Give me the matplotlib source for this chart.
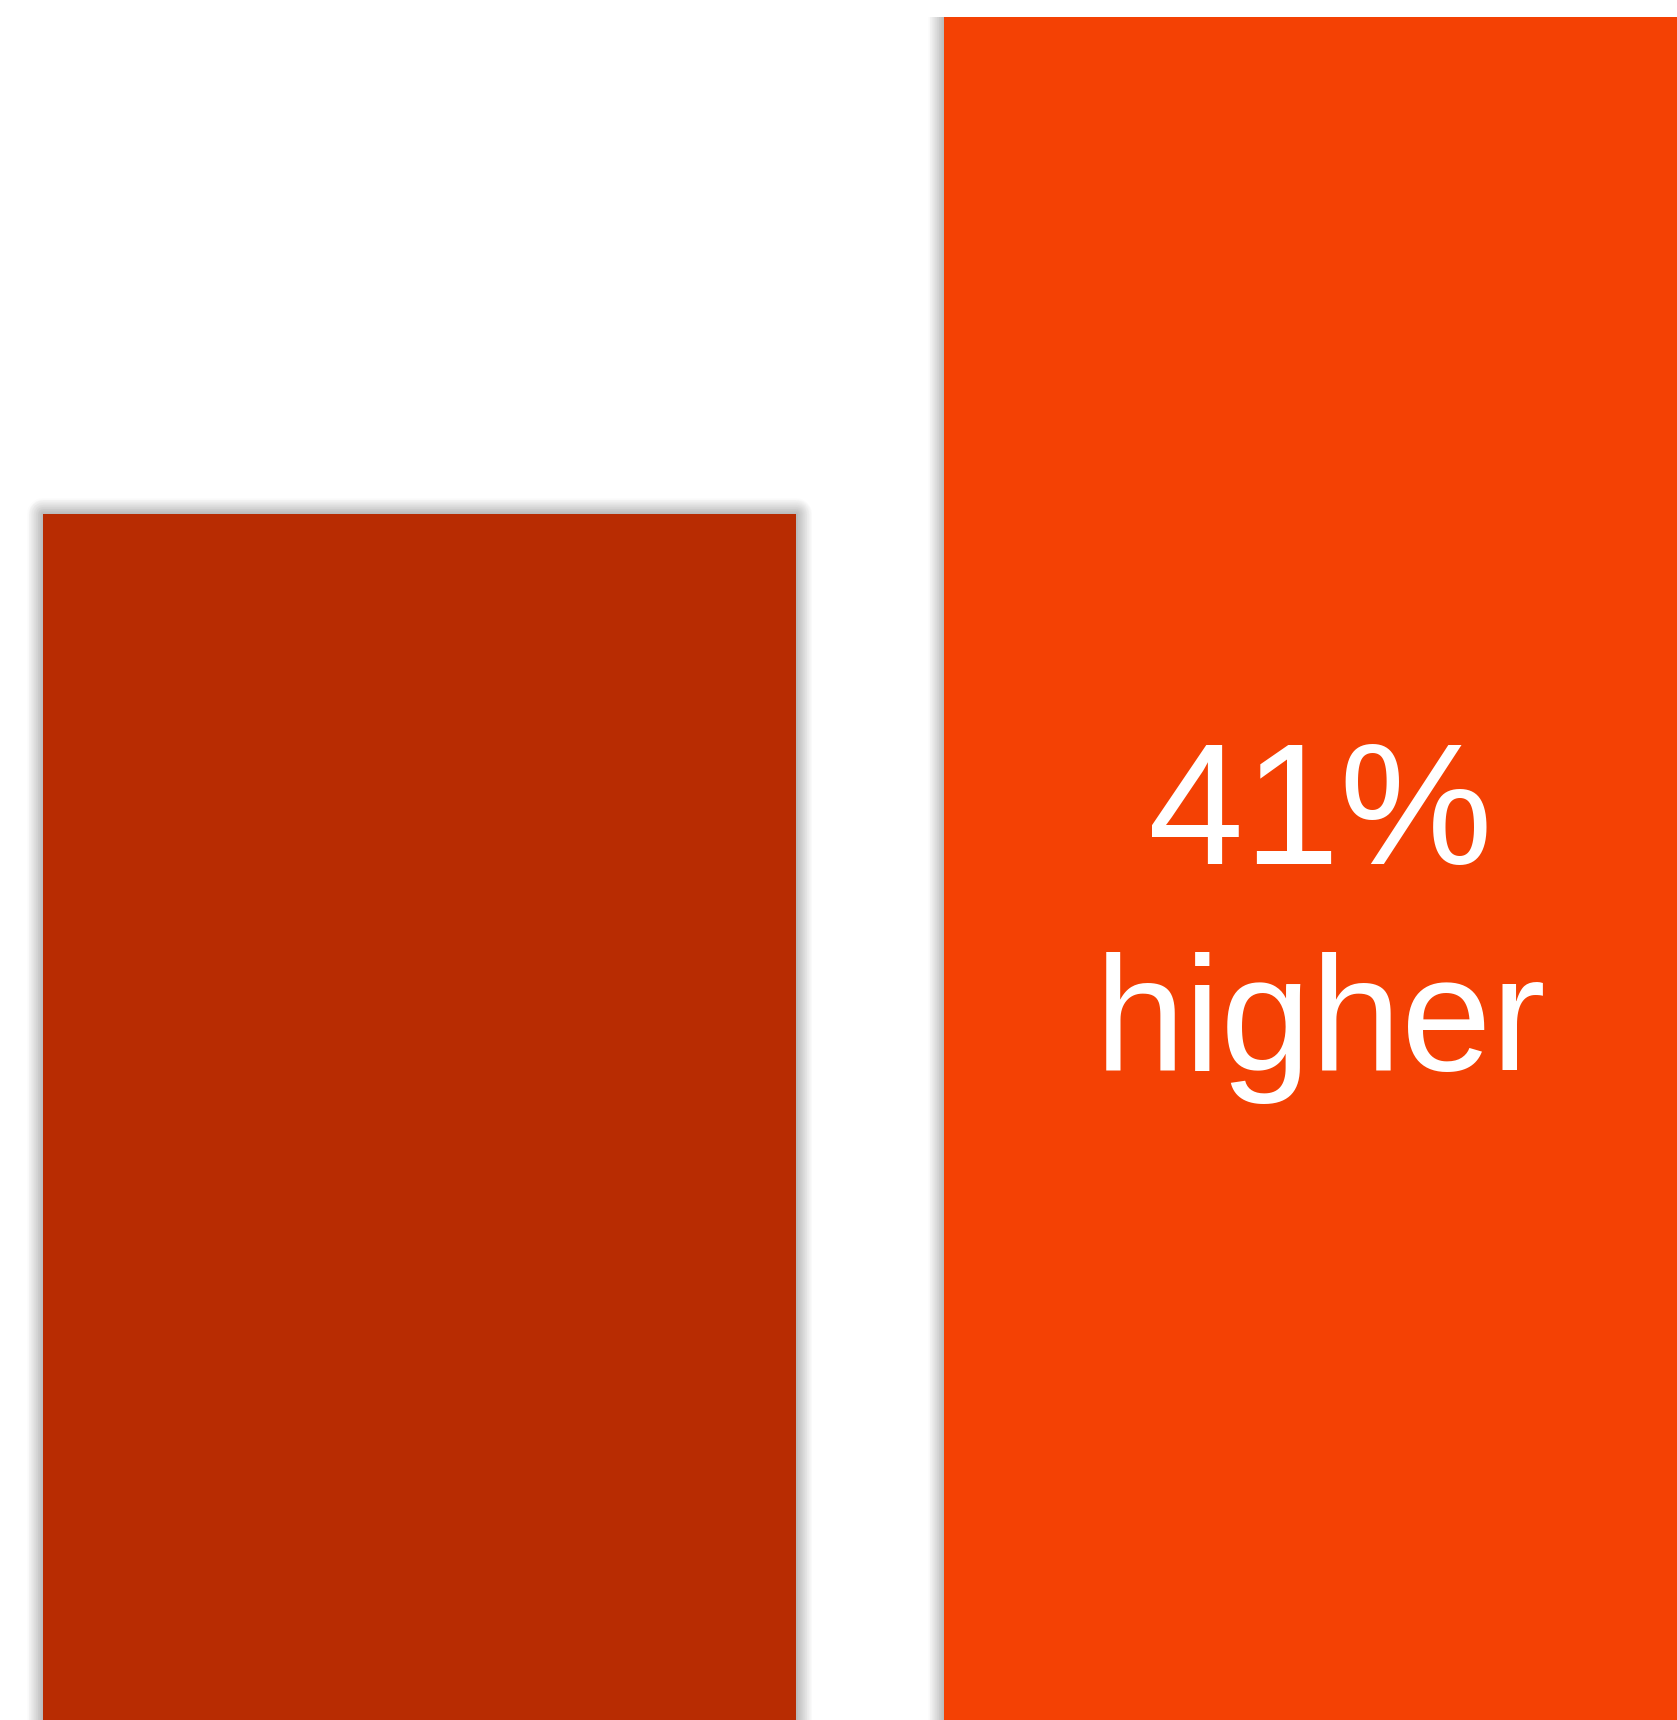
import matplotlib.pyplot as plt

# two bars, second one is 41% higher
labels = ['before', 'after']
values = [100, 141]
colors = ['#B82C02', '#F44104']
big_text = '41%'
small_text = 'higher'

fig = plt.figure(figsize=(16.77, 17.20), dpi=100)
fig.patch.set_facecolor('white')

# axes fills the page, zero line sits a few px under the bottom edge
ax = fig.add_axes([0, -6 / 1720, 1, 1 - 17 / 1720 + 6 / 1720])
ax.set_xlim(-0.4656, 1.3957)
ax.set_ylim(0, 141)
ax.axis('off')

x = list(range(len(values)))
w = 0.8357

# soft grey shadow round the bars: stacked faint edges
for lw in range(1, 24):
    bars = ax.bar(x, values, width=w, facecolor='none', edgecolor='black',
                  linewidth=lw, alpha=0.011, zorder=1)
    for b in bars:
        b.set_joinstyle('round')

ax.bar(x, values, width=w, color=colors, linewidth=0, zorder=2)

ax.text(1, 71.1, big_text, color='white', ha='center', va='baseline',
        fontsize=124, family='Liberation Sans', zorder=3)
ax.text(1, 54.1, small_text, color='white', ha='center', va='baseline',
        fontsize=117, family='Liberation Sans', zorder=3)

fig.savefig('out.png', dpi=100, facecolor='white')
